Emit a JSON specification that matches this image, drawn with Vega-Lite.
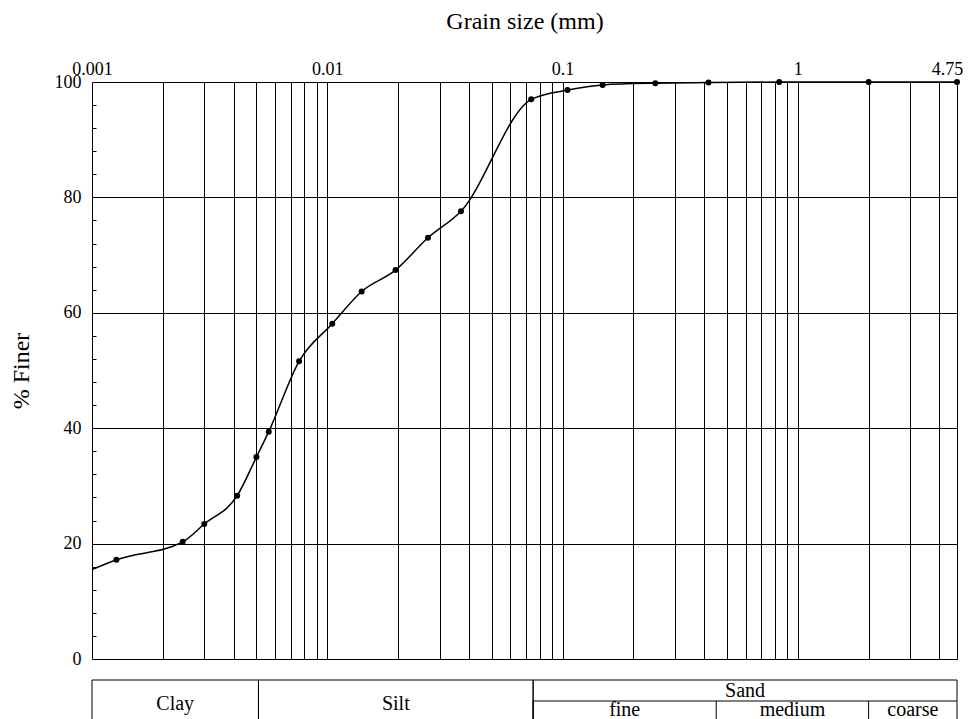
{
  "$schema": "https://vega.github.io/schema/vega-lite/v6.json",
  "autosize": {"type": "none"},
  "padding": {"left": 92, "top": 82, "right": 12, "bottom": 60},
  "width": 865,
  "height": 577,
  "background": "white",
  "config": {
    "view": {"stroke": null},
    "font": "Liberation Serif",
    "text": {"font": "Liberation Serif", "color": "black"}
  },
  "resolve": {"axis": {"y": "independent"}},
  "datasets": {
    "curve": [
      {"d": 0.001, "p": 15.5, "m": false},
      {"d": 0.00127, "p": 17.2, "m": true},
      {"d": 0.00243, "p": 20.3, "m": true},
      {"d": 0.003, "p": 23.4, "m": true},
      {"d": 0.00414, "p": 28.3, "m": true},
      {"d": 0.005, "p": 35.0, "m": true},
      {"d": 0.00564, "p": 39.4, "m": true},
      {"d": 0.00759, "p": 51.6, "m": true},
      {"d": 0.0105, "p": 58.1, "m": true},
      {"d": 0.014, "p": 63.7, "m": true},
      {"d": 0.0195, "p": 67.4, "m": true},
      {"d": 0.0268, "p": 73.0, "m": true},
      {"d": 0.037, "p": 77.6, "m": true},
      {"d": 0.0736, "p": 97.0, "m": true},
      {"d": 0.105, "p": 98.6, "m": true},
      {"d": 0.148, "p": 99.5, "m": true},
      {"d": 0.248, "p": 99.8, "m": true},
      {"d": 0.417, "p": 99.9, "m": true},
      {"d": 0.834, "p": 100, "m": true},
      {"d": 2.0, "p": 100, "m": true},
      {"d": 4.75, "p": 100, "m": true}
    ],
    "classes": [
      {"cls": "Clay", "from": 0.001, "to": 0.0051, "tier": "main"},
      {"cls": "Silt", "from": 0.0051, "to": 0.075, "tier": "main"},
      {"cls": "Sand", "from": 0.075, "to": 4.75, "tier": "main"},
      {"cls": "fine", "from": 0.075, "to": 0.45, "tier": "sub"},
      {"cls": "medium", "from": 0.45, "to": 2, "tier": "sub"},
      {"cls": "coarse", "from": 2, "to": 4.75, "tier": "sub"}
    ]
  },
  "layer": [
    {
      "data": {"name": "curve"},
      "mark": {"type": "line", "interpolate": "monotone", "color": "black", "strokeWidth": 1.5},
      "encoding": {
        "x": {
          "field": "d", "type": "quantitative",
          "scale": {"type": "log", "domain": [0.001, 4.75], "nice": false},
          "title": "Grain size (mm)",
          "axis": {
            "orient": "top",
            "values": [0.001, 0.002, 0.003, 0.004, 0.005, 0.006, 0.007, 0.008, 0.009, 0.01, 0.02, 0.03, 0.04, 0.05, 0.06, 0.07, 0.08, 0.09, 0.1, 0.2, 0.3, 0.4, 0.5, 0.6, 0.7, 0.8, 0.9, 1, 2, 3, 4, 4.75],
            "labelExpr": "indexof([0.001, 0.01, 0.1, 1, 4.75], datum.value) >= 0 ? '' + datum.value : ''",
            "grid": true, "gridColor": "black", "gridWidth": 1, "gridOpacity": 1,
            "ticks": false, "tickSize": 0, "domain": false,
            "labelFont": "Liberation Serif", "labelFontSize": 18, "labelColor": "black",
            "labelPadding": 8, "labelBaseline": "alphabetic", "labelAlign": "center",
            "labelOverlap": false, "labelFlush": false,
            "labelOffset": {"condition": {"test": "datum.value === 4.75", "value": -10}, "value": 0},
            "titleFont": "Liberation Serif", "titleFontSize": 24, "titleFontWeight": "normal",
            "titleColor": "black", "titlePadding": 27
          }
        },
        "y": {
          "field": "p", "type": "quantitative",
          "scale": {"domain": [0, 100], "nice": false},
          "title": "% Finer",
          "axis": {
            "orient": "left",
            "values": [0, 20, 40, 60, 80, 100],
            "grid": true, "gridColor": "black", "gridWidth": 1, "gridOpacity": 1,
            "ticks": false, "tickSize": 0,
            "domain": false,
            "labelFont": "Liberation Serif", "labelFontSize": 18, "labelColor": "black",
            "labelPadding": 11, "labelOverlap": false, "labelFlush": false,
            "titleFont": "Liberation Serif", "titleFontSize": 24, "titleFontWeight": "normal",
            "titleColor": "black", "titlePadding": 21
          }
        }
      }
    },
    {
      "data": {"name": "curve"},
      "transform": [{"filter": "datum.m"}],
      "mark": {"type": "point", "filled": true, "color": "black", "size": 36, "opacity": 1},
      "encoding": {
        "x": {"field": "d", "type": "quantitative", "title": "Grain size (mm)"},
        "y": {
          "field": "p", "type": "quantitative",
          "axis": {
            "orient": "left",
            "values": [4, 8, 12, 16, 24, 28, 32, 36, 44, 48, 52, 56, 64, 68, 72, 76, 84, 88, 92, 96],
            "labels": false, "grid": false, "domain": false, "title": null,
            "ticks": true, "tickSize": -4, "tickColor": "black", "tickWidth": 1
          }
        }
      }
    },
    {
      "data": {"name": "classes"},
      "transform": [{"filter": "datum.tier === 'main'"}],
      "mark": {"type": "rule", "color": "black", "strokeWidth": 1},
      "encoding": {
        "x": {"field": "from", "type": "quantitative", "title": "Grain size (mm)"},
        "x2": {"field": "to"},
        "y": {"datum": -3.64, "type": "quantitative", "axis": null}
      }
    },
    {
      "data": {"name": "classes"},
      "transform": [{"filter": "datum.tier === 'sub'"}],
      "mark": {"type": "rule", "color": "black", "strokeWidth": 1},
      "encoding": {
        "x": {"field": "from", "type": "quantitative", "title": "Grain size (mm)"},
        "x2": {"field": "to"},
        "y": {"datum": -7.28, "type": "quantitative", "axis": null}
      }
    },
    {
      "data": {"name": "classes"},
      "transform": [{"filter": "datum.tier === 'main'"}],
      "mark": {"type": "rule", "color": "black", "strokeWidth": 1},
      "encoding": {
        "x": {"field": "from", "type": "quantitative", "title": "Grain size (mm)"},
        "y": {"datum": -3.64, "type": "quantitative", "axis": null},
        "y2": {"datum": -12}
      }
    },
    {
      "data": {"name": "classes"},
      "transform": [{"filter": "datum.tier === 'main'"}],
      "mark": {"type": "rule", "color": "black", "strokeWidth": 1},
      "encoding": {
        "x": {"field": "to", "type": "quantitative", "title": "Grain size (mm)"},
        "y": {"datum": -3.64, "type": "quantitative", "axis": null},
        "y2": {"datum": -12}
      }
    },
    {
      "data": {"name": "classes"},
      "transform": [{"filter": "datum.tier === 'sub'"}],
      "mark": {"type": "rule", "color": "black", "strokeWidth": 1},
      "encoding": {
        "x": {"field": "from", "type": "quantitative", "title": "Grain size (mm)"},
        "y": {"datum": -7.28, "type": "quantitative", "axis": null},
        "y2": {"datum": -12}
      }
    },
    {
      "data": {"name": "classes"},
      "transform": [
        {"filter": "datum.tier === 'main' && datum.cls !== 'Sand'"},
        {"calculate": "sqrt(datum.from * datum.to)", "as": "mid"}
      ],
      "mark": {"type": "text", "font": "Liberation Serif", "fontSize": 20, "color": "black", "baseline": "alphabetic", "align": "center"},
      "encoding": {
        "x": {"field": "mid", "type": "quantitative", "title": "Grain size (mm)"},
        "y": {"datum": -8.84, "type": "quantitative", "axis": null},
        "text": {"field": "cls"}
      }
    },
    {
      "data": {"name": "classes"},
      "transform": [
        {"filter": "datum.cls === 'Sand'"},
        {"calculate": "sqrt(datum.from * datum.to)", "as": "mid"}
      ],
      "mark": {"type": "text", "font": "Liberation Serif", "fontSize": 20, "color": "black", "baseline": "alphabetic", "align": "center"},
      "encoding": {
        "x": {"field": "mid", "type": "quantitative", "title": "Grain size (mm)"},
        "y": {"datum": -6.59, "type": "quantitative", "axis": null},
        "text": {"field": "cls"}
      }
    },
    {
      "data": {"name": "classes"},
      "transform": [
        {"filter": "datum.tier === 'sub'"},
        {"calculate": "sqrt(datum.from * datum.to)", "as": "mid"}
      ],
      "mark": {"type": "text", "font": "Liberation Serif", "fontSize": 20, "color": "black", "baseline": "alphabetic", "align": "center"},
      "encoding": {
        "x": {"field": "mid", "type": "quantitative", "title": "Grain size (mm)"},
        "y": {"datum": -9.88, "type": "quantitative", "axis": null},
        "text": {"field": "cls"}
      }
    }
  ]
}
